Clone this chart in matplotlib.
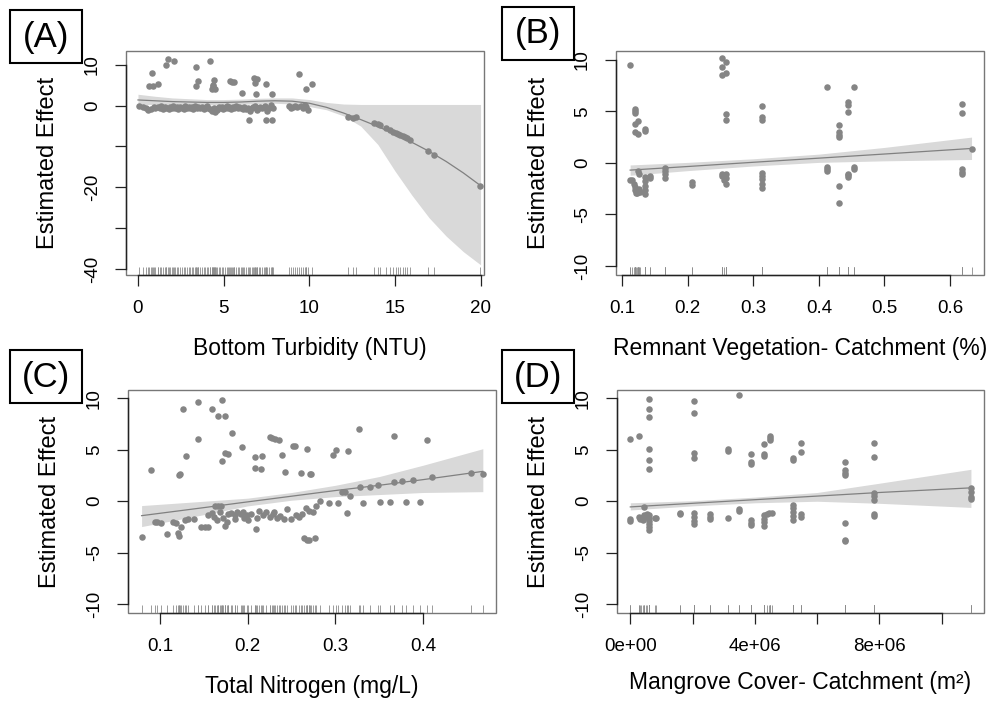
import matplotlib
matplotlib.use("Agg")
import matplotlib.pyplot as plt
import numpy as np
from matplotlib.patches import Rectangle

plt.rcParams['font.family'] = ['Liberation Sans', 'DejaVu Sans']
plt.rcParams['axes.unicode_minus'] = False

# ---- panel A: bottom turbidity ----
a_x = [1.63, 1.73, 2.08, 0.82, 0.62, 0.9, 1.15, 3.38, 4.2, 3.48, 3.38, 4.45, 4.3, 4.4, 4.5, 4.35,
       5.36, 5.6, 5.5, 6.1, 6.8, 6.95, 6.85, 6.9, 7.46, 7.8, 9.4, 9.8, 10.15, 6.5, 7.5, 7.8,
       0.08, 0.32, 0.47, 0.61, 0.78, 0.93, 1.02, 1.14, 1.27, 1.35, 1.46, 1.58, 1.66, 1.79, 1.88,
       1.97, 2.06, 2.18, 2.27, 2.36, 2.48, 2.55, 2.67, 2.74, 2.86, 2.95, 3.04, 3.13, 3.22, 3.31,
       3.43, 3.52, 3.61, 3.73, 3.85, 3.94, 4.02, 4.11, 4.23, 4.32, 4.41, 4.47, 4.56, 4.63, 4.72,
       4.81, 4.88, 4.97, 5.06, 5.17, 5.24, 5.33, 5.45, 5.52, 5.63, 5.71, 5.83, 5.92, 6.04, 6.12,
       6.21, 6.33, 6.42, 6.55, 6.63, 6.74, 6.86, 6.93, 7.04, 7.13, 7.22, 7.35, 7.44, 7.52, 7.66,
       7.74, 7.86, 8.82, 8.93, 9.05, 9.16, 9.27, 9.52, 9.63, 9.74, 9.81, 9.9,
       12.26, 12.55, 12.71, 13.8, 14.0, 14.1, 14.5, 14.7, 14.9, 15.05, 15.2, 15.3, 15.45,
       15.6, 15.72, 15.86, 16.93, 17.28, 19.98]
a_y = [9.9, 11.5, 10.9, 7.9, 4.7, 4.8, 5.4, 9.5, 10.9, 6.1, 4.85, 6.25, 4.2, 4.8, 4.0, 5.0,
       6.0, 5.7, 5.8, 3.2, 6.8, 6.5, 5.5, 2.97, 5.3, 2.8, 7.7, 4.0, 5.3, -3.5, -3.5, -3.5,
       -0.2, -0.3, -0.5, -1.0, -0.9, -0.4, -0.6, -0.3, -0.5, -0.2, -0.7, -0.4, -0.6, -0.9, -0.3,
       -0.5, -0.2, -0.6, -0.4, -0.8, -0.3, -0.5, -0.7, -0.2, -0.6, -0.4, -0.5, -0.3, -0.8, -0.2,
       -0.6, -0.4, -0.5, -0.3, -0.7, -0.5, -0.2, -0.6, -0.9, -1.3, -0.5, -1.6, -0.8, -1.1, -0.4,
       -0.6, -0.3, -0.7, -0.5, -0.2, -0.6, -0.4, -0.8, -0.3, -0.5, -0.2, -0.6, -0.4, -0.5, -0.7,
       -0.3, -0.9, -0.5, -1.3, -0.6, -0.4, -0.2, -1.0, -0.5, -0.3, -0.6, -0.4, -0.2, -1.2, -0.5,
       0.1, -0.6, -0.2, -0.6, -0.3, 0.0, -0.4, -0.1, -0.5, 0.1, -0.3, -1.1,
       -2.67, -2.9, -2.67, -4.3, -4.5, -4.7, -5.5, -6.0, -6.4, -6.7, -7.0, -7.2, -7.4,
       -7.7, -8.0, -8.4, -11.1, -12.1, -19.65]
a_grid = [0, 1, 2, 3, 4, 5, 6, 7, 8, 9, 10, 11, 12, 13, 14, 15, 16, 17, 18, 19, 20]
a_fit = [1.4, 1.2, 1.0, 0.9, 0.8, 0.8, 0.9, 1.1, 1.2, 1.1, 0.6, -0.4, -1.8, -3.4, -5.1,
         -7.0, -9.0, -11.2, -13.7, -16.5, -19.6]
a_hi = [2.8, 2.3, 1.9, 1.7, 1.5, 1.5, 1.6, 1.8, 1.9, 1.9, 1.5, 0.8, 0.4, 0.3, 0.3,
        0.3, 0.3, 0.3, 0.3, 0.3, 0.3]
a_lo = [0.3, 0.3, 0.3, 0.2, 0.2, 0.2, 0.3, 0.5, 0.6, 0.4, -0.2, -1.0, -2.5, -5.0, -9.5,
        -16.0, -22.0, -27.5, -32.0, -35.8, -39.0]

# ---- panel B: remnant vegetation ----
b_x = [0.112, 0.119, 0.119, 0.119, 0.119, 0.124, 0.119, 0.124, 0.135, 0.135,
       0.112, 0.115, 0.118, 0.119, 0.12, 0.121, 0.124, 0.125, 0.124, 0.125, 0.127, 0.122,
       0.135, 0.135, 0.135, 0.135, 0.135, 0.143, 0.143,
       0.165, 0.165, 0.165, 0.165, 0.206, 0.206,
       0.252, 0.252, 0.252, 0.258, 0.258, 0.258, 0.258,
       0.252, 0.252, 0.258, 0.258, 0.258, 0.255,
       0.313, 0.313, 0.313, 0.313, 0.313, 0.313, 0.313, 0.313,
       0.412, 0.412, 0.412, 0.412,
       0.43, 0.43, 0.43, 0.43, 0.43, 0.43,
       0.445, 0.445, 0.445, 0.445, 0.445, 0.445,
       0.454, 0.454, 0.454,
       0.618, 0.618, 0.618, 0.618, 0.618, 0.633]
b_y = [9.45, 5.2, 5.0, 4.8, 3.8, 4.1, 3.0, 2.8, 3.1, 3.25,
       -1.65, -1.7, -2.0, -2.3, -2.6, -2.9, -2.8, -2.5, -0.75, -1.1, -2.8, -2.9,
       -1.4, -1.8, -2.2, -2.6, -3.0, -1.3, -1.5,
       -0.5, -0.8, -1.1, -1.5, -1.9, -2.1,
       10.2, 9.3, 8.55, 9.8, 8.7, 4.76, 4.2,
       -1.1, -1.3, -1.1, -1.5, -2.0, -1.7,
       5.5, 4.45, 4.2, -1.0, -1.3, -1.6, -2.0, -2.4,
       7.4, -0.4, -0.75, -0.6,
       3.7, 3.0, 2.75, 2.5, -2.2, -3.9,
       5.9, 5.6, 4.9, -1.07, -1.4, -1.2,
       7.4, -0.4, -0.6,
       5.7, 4.8, -0.55, -0.9, -1.1, 1.36]
b_grid = [0.112, 0.2, 0.3, 0.4, 0.5, 0.633]
b_fit = [-0.7, -0.35, 0.06, 0.46, 0.86, 1.4]
b_hi = [-0.2, 0.05, 0.4, 0.85, 1.5, 2.5]
b_lo = [-1.2, -0.75, -0.3, 0.05, 0.2, 0.33]

# ---- panel C: total nitrogen ----
c_x = [0.126, 0.143, 0.159, 0.171, 0.166, 0.174, 0.182, 0.143, 0.130, 0.090, 0.122, 0.123,
       0.174, 0.177, 0.171, 0.194, 0.208, 0.216, 0.208, 0.215, 0.225, 0.228, 0.231, 0.236,
       0.239, 0.243, 0.252, 0.254, 0.268, 0.261, 0.271, 0.272, 0.327, 0.367, 0.404, 0.297,
       0.301, 0.314,
       0.307, 0.311, 0.317, 0.328, 0.339, 0.349, 0.367, 0.376, 0.388, 0.410, 0.454, 0.468,
       0.331, 0.351, 0.362, 0.380, 0.396, 0.293, 0.303, 0.313, 0.282,
       0.270, 0.277, 0.264, 0.268,
       0.079, 0.094, 0.097, 0.101, 0.108, 0.115, 0.118, 0.120, 0.122, 0.124, 0.128, 0.132,
       0.139, 0.147, 0.151, 0.155, 0.155, 0.159, 0.163, 0.166, 0.170, 0.161, 0.165, 0.172,
       0.176, 0.174, 0.178, 0.181, 0.185, 0.188, 0.192, 0.196, 0.199, 0.204, 0.209, 0.213,
       0.217, 0.221, 0.225, 0.229, 0.233, 0.237, 0.241, 0.245, 0.249, 0.255, 0.259, 0.262,
       0.266, 0.270, 0.274, 0.278, 0.185, 0.200, 0.210, 0.230, 0.195, 0.168]
c_y = [9.0, 9.67, 8.96, 9.83, 8.3, 8.3, 6.66, 6.0, 4.4, 3.04, 2.5, 2.6,
       4.66, 4.6, 3.9, 5.24, 4.33, 4.43, 3.2, 3.13, 6.2, 6.1, 6.0, 5.9,
       4.5, 2.87, 5.4, 5.4, 5.05, 2.7, 2.6, 2.6, 7.05, 6.34, 5.92, 4.5,
       4.98, 4.9,
       0.93, 0.93, 0.51, 1.35, 1.39, 1.58, 1.84, 1.97, 2.07, 2.33, 2.78, 2.65,
       -0.13, -0.12, -0.12, -0.12, -0.12, -0.2, -0.2, -1.1, 0.0,
       -3.76, -3.6, -3.6, -3.8,
       -3.43, -2.05, -2.0, -2.15, -3.2, -2.0, -2.15, -3.1, -3.4, -2.47, -1.8, -1.75,
       -1.7, -2.5, -2.5, -2.5, -1.3, -1.1, -0.5, -0.5, -0.5, -1.5, -1.8, -1.6,
       -2.0, -2.4, -1.2, -1.1, -1.3, -1.0, -1.2, -1.6, -1.3, -1.2, -2.7, -0.9,
       -1.3, -1.0, -1.5, -1.2, -1.6, -1.4, -1.7, -0.8, -1.7, -1.3, -1.5, -1.2,
       -0.7, -0.9, -1.0, -0.5, -1.7, -1.8, -1.6, -1.0, -1.0, -1.0]
c_grid = [0.079, 0.15, 0.2, 0.25, 0.3, 0.35, 0.4, 0.468]
c_fit = [-1.4, -0.62, -0.06, 0.49, 1.04, 1.55, 2.1, 2.9]
c_hi = [-0.42, 0.0, 0.3, 0.85, 1.55, 2.4, 3.5, 5.1]
c_lo = [-2.46, -1.3, -0.45, 0.1, 0.45, 0.65, 0.85, 0.93]

# ---- panel D: mangrove cover (millions of m2) ----
d_x_mil = [0, 0, 0,
           0.27, 0.27, 0.3, 0.35, 0.4, 0.43, 0.43, 0.5, 0.55,
           0.61, 0.61, 0.61, 0.61, 0.61, 0.61, 0.61, 0.61, 0.61, 0.61, 0.61, 0.61,
           0.8, 0.82, 1.6, 1.6,
           2.03, 2.03, 2.03, 2.03, 2.03, 2.03, 2.03, 2.03,
           2.57, 2.57, 2.57, 3.13, 3.13, 3.13, 3.48, 3.48, 3.48,
           3.87, 3.87, 3.87, 3.87, 3.87, 3.87,
           4.28, 4.28, 4.28, 4.28, 4.28, 4.28, 4.28, 4.38, 4.45, 4.55, 4.49, 4.49, 4.49,
           5.22, 5.22, 5.22, 5.22, 5.22, 5.22, 5.22, 5.48, 5.48, 5.48, 5.48,
           6.88, 6.88, 6.88, 6.88, 6.88, 6.88, 6.88,
           7.84, 7.84, 7.84, 7.84, 7.84, 7.84, 7.84,
           10.94, 10.94, 10.94, 10.94]
d_y = [6.0, -1.7, -1.9,
       6.3, -1.5, -1.7, -1.6, -1.8, -1.3, -0.6, -1.5, -1.2,
       9.9, 9.0, 8.2, 5.1, 4.0, 3.1, -1.3, -1.6, -1.9, -2.2, -2.5, -2.8,
       -1.6, -1.6, -1.1, -1.2,
       9.7, 8.6, 4.7, 4.2, -1.1, -1.5, -1.9, -2.2,
       -1.2, -1.5, -1.7, 5.05, 4.9, -1.6, 10.3, -0.75, -0.9,
       4.55, 3.8, 3.6, -1.8, -2.1, -2.3,
       5.6, 4.6, 4.4, -1.3, -1.7, -2.0, -2.4, -1.2, -1.1, -1.1, 6.3, 6.1, 5.9,
       4.2, 4.0, -0.4, -0.7, -1.0, -1.4, -1.8, 5.7, 4.8, -1.2, -1.5,
       3.85, 3.0, 2.7, 2.5, -2.1, -3.75, -3.85,
       5.7, 4.27, 0.84, 0.5, 0.13, -1.2, -1.4,
       1.26, 0.94, 0.38, 0.2]
d_grid_mil = [0, 2, 4, 6, 8, 10.94]
d_fit = [-0.55, -0.2, 0.15, 0.5, 0.85, 1.3]
d_hi = [-0.15, 0.05, 0.4, 0.85, 1.75, 3.1]
d_lo = [-0.85, -0.45, -0.15, 0.0, -0.2, -0.6]

W, H = 993, 701
pt_col = '#858585'
band_col = '#d9d9d9'


def px_rect(l, t, r, b):
    return [l / W, 1 - b / H, (r - l) / W, (b - t) / H]


def r_axes(ax, xt, xtl, yt, ytl):
    for s in ['top', 'right']:
        ax.spines[s].set_visible(False)
    ax.spines['left'].set_bounds(yt[0], yt[-1])
    ax.spines['bottom'].set_bounds(xt[0], xt[-1])
    for s in ['left', 'bottom']:
        ax.spines[s].set_color('#222222')
        ax.spines[s].set_linewidth(1.0)
    ax.add_patch(Rectangle((0, 0), 1, 1, transform=ax.transAxes, fill=False,
                           ec='#777777', lw=1.0, clip_on=False, zorder=0.5))
    ax.set_xticks(xt)
    ax.set_xticklabels(xtl)
    ax.set_yticks(yt)
    ax.set_yticklabels(ytl, rotation=90, va='center')
    ax.tick_params(length=8, width=0.9, pad=10, labelsize=13.5, color='#222222')


def panel(ax, x, y, gx, fit, lo, hi):
    ax.fill_between(gx, lo, hi, color=band_col, lw=0, zorder=1)
    ax.plot(gx, fit, color='#808080', lw=0.9, zorder=2)
    ax.scatter(x, y, s=22, color=pt_col, lw=0, zorder=3)
    ax.vlines(x, 0, 0.035, transform=ax.get_xaxis_transform(), color='#8c8c8c',
              lw=0.6, zorder=2)


fig = plt.figure(figsize=(W / 100, H / 100), dpi=100)

axA = fig.add_axes(px_rect(126, 51, 484, 275))
axB = fig.add_axes(px_rect(616, 51, 984, 275))
axC = fig.add_axes(px_rect(128, 390, 496, 613))
axD = fig.add_axes(px_rect(617, 390, 984, 613))

panel(axA, a_x, a_y, a_grid, a_fit, a_lo, a_hi)
axA.set_xlim(-0.7, 20.2)
axA.set_ylim(-41.5, 13.4)
r_axes(axA, [0, 5, 10, 15, 20], ['0', '5', '10', '15', '20'],
       [-40, -30, -20, -10, 0, 10], ['-40', '', '-20', '', '0', '10'])

panel(axB, b_x, b_y, b_grid, b_fit, b_lo, b_hi)
axB.set_xlim(0.0904, 0.652)
axB.set_ylim(-10.87, 10.85)
r_axes(axB, [0.1, 0.2, 0.3, 0.4, 0.5, 0.6], ['0.1', '0.2', '0.3', '0.4', '0.5', '0.6'],
       [-10, -5, 0, 5, 10], ['-10', '-5', '0', '5', '10'])

panel(axC, c_x, c_y, c_grid, c_fit, c_lo, c_hi)
axC.set_xlim(0.0635, 0.483)
axC.set_ylim(-10.85, 10.8)
r_axes(axC, [0.1, 0.2, 0.3, 0.4], ['0.1', '0.2', '0.3', '0.4'],
       [-10, -5, 0, 5, 10], ['-10', '-5', '0', '5', '10'])

d_x = np.array(d_x_mil) * 1e6
d_gx = np.array(d_grid_mil) * 1e6
panel(axD, d_x, d_y, d_gx, d_fit, d_lo, d_hi)
axD.set_xlim(-0.427e6, 11.36e6)
axD.set_ylim(-10.85, 10.8)
r_axes(axD, [0, 2e6, 4e6, 6e6, 8e6, 10e6], ['0e+00', '', '4e+06', '', '8e+06', ''],
       [-10, -5, 0, 5, 10], ['-10', '-5', '0', '5', '10'])

# axis titles (pixel positions)
def ftext(x, y, s, **kw):
    fig.text(x / W, 1 - y / H, s, ha='center', va='center', **kw)

ftext(48, 163, 'Estimated Effect', rotation=90, fontsize=17)
ftext(539, 163, 'Estimated Effect', rotation=90, fontsize=17)
ftext(50, 502, 'Estimated Effect', rotation=90, fontsize=17)
ftext(539, 502, 'Estimated Effect', rotation=90, fontsize=17)
ftext(310, 349, 'Bottom Turbidity (NTU)', fontsize=16.5)
ftext(800, 349, 'Remnant Vegetation- Catchment (%)', fontsize=16.5)
ftext(312, 686, 'Total Nitrogen (mg/L)', fontsize=16.5)
ftext(800, 682, 'Mangrove Cover- Catchment (m²)', fontsize=16.5)

# boxed panel letters
for lab, l, t in [('(A)', 10, 10), ('(B)', 502, 7), ('(C)', 10, 350), ('(D)', 502, 350)]:
    fig.add_artist(Rectangle((l / W, 1 - (t + 53) / H), 72 / W, 53 / H,
                             transform=fig.transFigure, fill=False, ec='black', lw=1.5))
    ftext(l + 36, t + 27, lab, fontsize=25)

fig.savefig('out.png', dpi=100)
